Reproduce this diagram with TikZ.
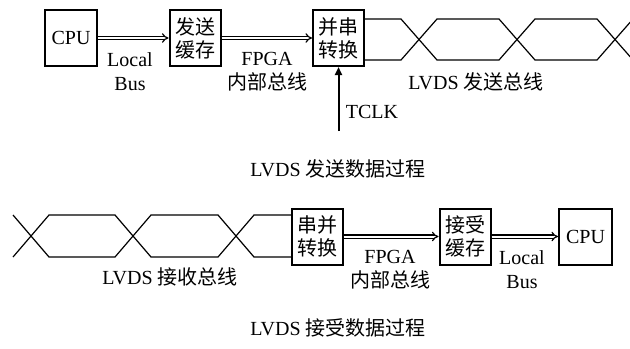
\documentclass[tikz,border=0pt]{standalone}
\usepackage{fontspec}
\setmainfont{Liberation Serif}
\newfontfamily\cjk{Noto Sans CJK SC}
\newcommand{\zhtext}[1]{{\cjk #1}}
\usetikzlibrary{arrows.meta, positioning}
\tikzstyle{block} = [rectangle, draw=black, line width=1pt,
    minimum width=25.5pt, minimum height=28pt, inner sep=0pt,
    align=center, font=\fontsize{10pt}{11.5pt}\selectfont]
\tikzstyle{bus} = [line width=0.6pt, double, double distance=1pt, -{Implies}]
\tikzstyle{clk} = [line width=1pt, -{Triangle[length=4pt, width=3.5pt]}]
\tikzstyle{wire} = [line width=0.6pt]
\tikzstyle{buslabel} = [align=center, inner sep=0pt,
    font=\fontsize{10pt}{12pt}\selectfont]
\tikzstyle{caption} = [inner sep=0pt, font=\fontsize{10pt}{12pt}\selectfont]

\begin{document}
\begin{tikzpicture}[x=0.5pt, y=-0.5pt]
  \clip (0,0) rectangle (630,348);

  % send path
  \node (cpuA)  [block, minimum width=26pt] at (71,38)  {CPU};
  \node (sbuf)  [block] at (195,38)   {\zhtext{发送}\\\zhtext{缓存}};
  \node (ptos)  [block] at (338.5,38) {\zhtext{并串}\\\zhtext{转换}};
  \coordinate (tclk) at (338.5,131);

  \draw[bus] (cpuA) -- (sbuf);
  \draw[bus] (sbuf) -- (ptos);
  \draw[clk] (tclk) -- (ptos);

  \node (lbA)   [buslabel] at (130,72)  {Local\\Bus};
  \node (fbA)   [buslabel] at (267,72)  {FPGA\\\zhtext{内部总线}};
  \node (txbus) [buslabel] at (476,82)  {LVDS \zhtext{发送总线}};
  \node (tclkl) [buslabel] at (372,112) {TCLK};
  \node (capA)  [caption]  at (338,169) {LVDS \zhtext{发送数据过程}};

  \draw[wire] (364,19) -- (401,19) -- (437,60) -- (499,60)
              -- (535,19) -- (597,19) -- (633,60);
  \draw[wire] (364,60) -- (401,60) -- (437,19) -- (499,19)
              -- (535,60) -- (597,60) -- (633,19);

  % receive path
  \node (stop)  [block] at (317,236.5) {\zhtext{串并}\\\zhtext{转换}};
  \node (rbuf)  [block] at (465,236.5) {\zhtext{接受}\\\zhtext{缓存}};
  \node (cpuB)  [block, minimum width=26.5pt] at (585.5,236.5) {CPU};

  \draw[bus] (stop) -- (rbuf);
  \draw[bus] (rbuf) -- (cpuB);

  \node (fbB)   [buslabel] at (390,270) {FPGA\\\zhtext{内部总线}};
  \node (lbB)   [buslabel] at (522,270) {Local\\Bus};
  \node (rxbus) [buslabel] at (170,277) {LVDS \zhtext{接收总线}};
  \node (capB)  [caption]  at (338,328) {LVDS \zhtext{接受数据过程}};

  \draw[wire] (13,215) -- (49,257) -- (115,257) -- (151,215)
              -- (218,215) -- (254,257) -- (292,257);
  \draw[wire] (13,257) -- (49,215) -- (115,215) -- (151,257)
              -- (218,257) -- (254,215) -- (292,215);
\end{tikzpicture}
\end{document}
